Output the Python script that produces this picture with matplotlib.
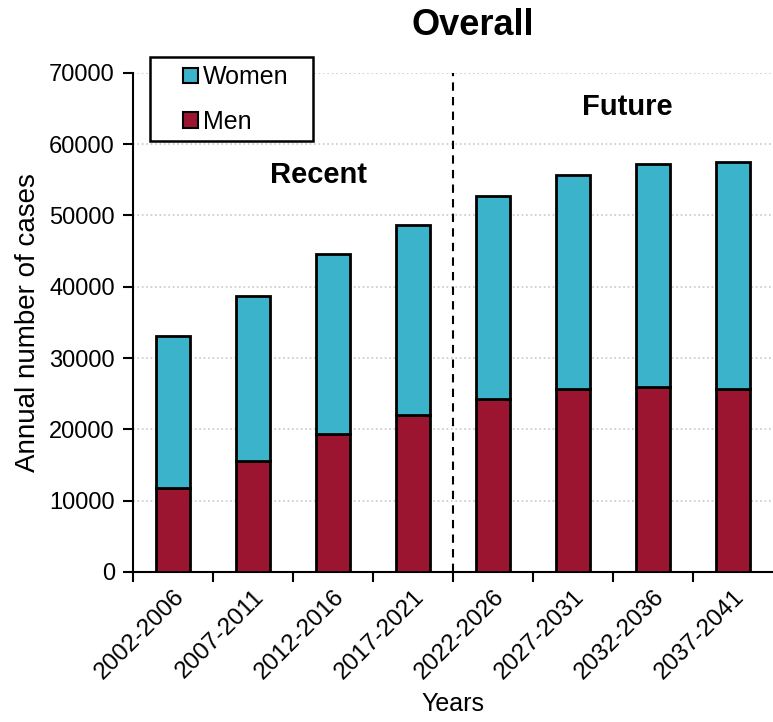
import numpy as np
import matplotlib
matplotlib.use("Agg")
import matplotlib.pyplot as plt
from matplotlib.patches import Patch, Rectangle

plt.rcParams['font.family'] = ['Liberation Sans', 'DejaVu Sans']

periods = ["2002-2006", "2007-2011", "2012-2016", "2017-2021",
           "2022-2026", "2027-2031", "2032-2036", "2037-2041"]
men = [11800, 15500, 19300, 22000, 24300, 25600, 26000, 25600]
total = [33100, 38700, 44600, 48700, 52800, 55700, 57200, 57500]
women = [t - m for t, m in zip(total, men)]

col_women = "#3BB3CB"
col_men = "#9B1530"

fig = plt.figure(figsize=(7.73, 7.22), dpi=100)
ax = fig.add_axes([0.172, 0.208, 0.828, 0.691])

x = np.arange(len(periods))
w = 0.42
ax.bar(x, men, w, color=col_men, edgecolor="black", linewidth=2, zorder=3)
ax.bar(x, women, w, bottom=men, color=col_women, edgecolor="black", linewidth=2, zorder=3)

ax.set_xlim(-0.5, 7.5)
ax.set_ylim(0, 70000)
ax.set_yticks(np.arange(0, 70001, 10000))
ax.yaxis.grid(True, ls=":", color="#c8c8c8", lw=1.2)
ax.set_axisbelow(True)

# labels at bar centres, tick marks between categories
ax.set_xticks(x)
ax.set_xticklabels(periods, rotation=45, ha="right", rotation_mode="anchor", fontsize=17.5)
ax.tick_params(axis="x", which="major", length=0, pad=10)
ax.set_xticks(np.arange(-0.5, 7.5, 1), minor=True)
ax.tick_params(axis="x", which="minor", length=7, width=1.5, direction="out")
ax.tick_params(axis="y", length=7, width=1.5, direction="out", labelsize=17, pad=6)

for s in ["top", "right"]:
    ax.spines[s].set_visible(False)
for s in ["left", "bottom"]:
    ax.spines[s].set_linewidth(1.5)

ax.axvline(3.5, color="black", ls=(0, (4, 3)), lw=1.5, zorder=4)

ax.text(1.825, 55700, "Recent", ha="center", va="center", fontsize=21, fontweight="bold")
ax.text(5.675, 65200, "Future", ha="center", va="center", fontsize=21, fontweight="bold")

ax.set_ylabel("Annual number of cases", fontsize=20, labelpad=6)
ax.set_xlabel("Years", fontsize=18, labelpad=6)
fig.text(0.611, 0.965, "Overall", ha="center", va="center", fontsize=26, fontweight="bold")

# legend box drawn separately so the padding can be wider than tall
fig.patches.append(Rectangle((150 / 773, 1 - 141 / 722), 163 / 773, 84 / 722,
                             transform=fig.transFigure, facecolor="white",
                             edgecolor="black", linewidth=1.8, zorder=5))
handles = [Patch(facecolor=col_women, edgecolor="black", linewidth=1.5),
           Patch(facecolor=col_men, edgecolor="black", linewidth=1.5)]
leg = fig.legend(handles, ["Women", "Men"], loc="center left",
                 bbox_to_anchor=(183 / 773, 1 - 99.5 / 722), borderaxespad=0,
                 borderpad=0, fontsize=18, handlelength=0.6, handleheight=0.6,
                 handletextpad=0.2, labelspacing=0.82, frameon=False)
leg.set_zorder(6)

fig.savefig("out.png", dpi=100)
